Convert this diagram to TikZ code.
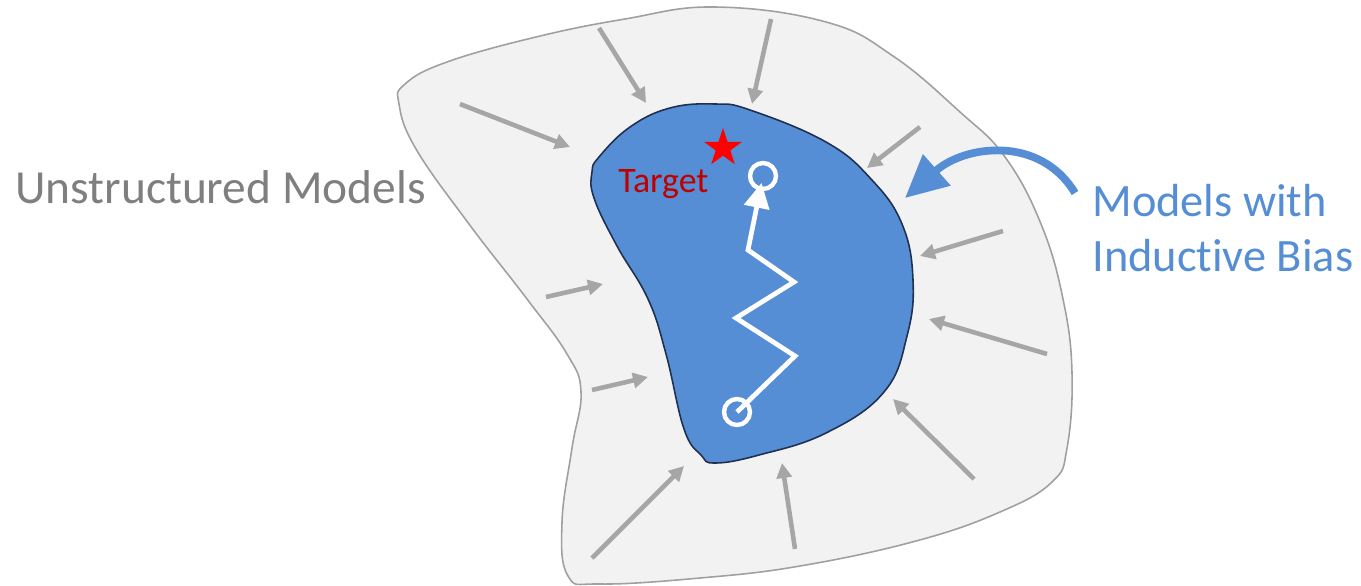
\documentclass[tikz,border=0pt]{standalone}
\usepackage{fontspec}
\setmainfont[Ligatures=NoCommon,Contextuals=NoAlternate]{Carlito}
\usetikzlibrary{arrows.meta,shapes.geometric}
\definecolor{ink}{HTML}{1F3050}
\definecolor{spacefill}{HTML}{F2F2F2}
\definecolor{spaceedge}{HTML}{A0A0A0}
\definecolor{pullgray}{HTML}{A6A6A6}
\definecolor{biasblue}{HTML}{558ED5}
\definecolor{textgray}{HTML}{7F7F7F}
\definecolor{darkred}{HTML}{C00000}
\tikzset{
  outerregion/.style={draw=spaceedge, line width=0.9pt, fill=spacefill},
  innerregion/.style={draw=ink, line width=0.9pt, fill=biasblue},
  pullarrow/.style={-{Triangle[length=0.3cm,width=0.3cm]}, line width=2.6pt, draw=pullgray},
  walkarrow/.style={-{Triangle[length=0.5cm,width=0.5cm]}, line width=2.7pt, draw=white},
  biasarrow/.style={-{Triangle[length=0.85cm,width=0.8cm]}, line width=4.4pt, draw=biasblue},
  endpoint/.style={circle, draw=white, line width=2.5pt, minimum size=0.52cm, inner sep=0pt},
  caption/.style={inner sep=0pt, font=\fontsize{27}{32}\selectfont, text=textgray}
}
\begin{document}
\begin{tikzpicture}[x=0.02cm,y=-0.02cm]
\useasboundingbox (0,0) rectangle (1361,585);
% space of all models
\draw[outerregion] plot[smooth cycle, tension=0.7] coordinates {(405,84) (447,62) (536,37) (625,19) (715,7) (826,22) (893,56) (960,112) (1005,157) (1041,224) (1063,299) (1072,373) (1067,448) (1052,482) (1000,512) (916,541) (800,566) (700,578) (600,584) (568,576) (562,522) (572,448) (581,392) (567,354) (527,299) (469,224) (416,149) (399,104)};
% models with inductive bias
\draw[innerregion] plot[smooth cycle, tension=0.7] coordinates {(715,104) (750,110) (826,142) (871,179) (902,224) (913,280) (907,336) (884,392) (826,433) (759,455) (715,463) (701,455) (684,429) (666,354) (648,299) (617,246) (594,198) (592,172) (599,157) (630,127) (670,108)};
\foreach \sx/\sy/\ex/\ey in {599/28/646/103, 771/19/752/104, 460/104/570/147, 920/127/867/168, 1003/231/920/256, 1047/354/929/319, 974/479/893/399, 795/549/782/463, 592/558/684/466, 592/390/648/377, 546/297/603/284}
  \draw[pullarrow] (\sx,\sy) -- (\ex,\ey);
\node[caption, anchor=base west] (unstructured) at (15,203) {Unstructured Models};
\node[caption, anchor=west, text=biasblue, align=left, font=\fontsize{26.4}{31.2}\selectfont] (bias) at (1092,228) {Models with\\Inductive Bias};
\coordinate (biastip) at (905,198);
\draw[biasarrow] ([shift={(-17,-35)}]bias.west) .. controls (1040,135) and (965,145) .. (biastip);
\node[star, star points=5, star point ratio=2.6, fill=red, minimum size=0.8cm, inner sep=0pt] (target) at (723,148) {};
\node[anchor=base west, inner sep=0pt, text=darkred, font=\fontsize{20.4}{24}\selectfont] (targetlabel) at (618,192) {Target};
\node[endpoint] (start) at (737,412) {};
\node[endpoint] (goal) at (763,176) {};
\draw[walkarrow, shorten >=0.14cm] (start.center) -- (795,356) -- (736,318) -- (794,282) -- (748,250) -- (goal.center);
\end{tikzpicture}
\end{document}
